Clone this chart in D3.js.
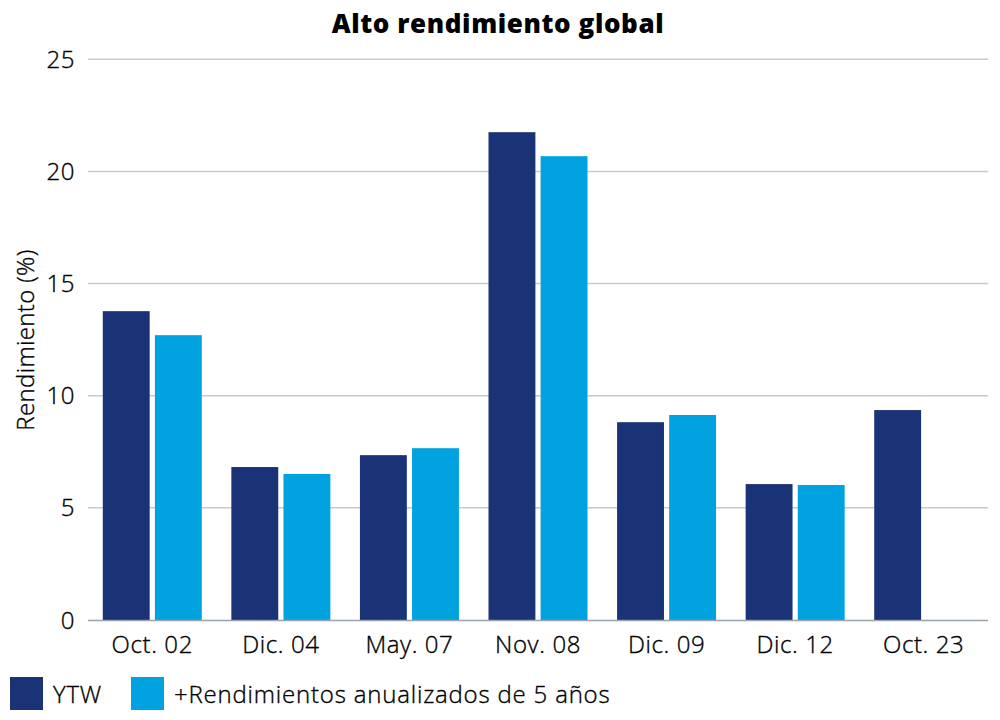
<!DOCTYPE html>
<html><head><meta charset="utf-8">
<script src="https://cdn.jsdelivr.net/npm/d3@7"></script>
<style>body{margin:0;background:#fff}svg{font-family:"Open Sans",Lato,sans-serif}</style>
</head><body><svg id="c" width="1000" height="720"></svg>
<script>
const categories = ["Oct. 02","Dic. 04","May. 07","Nov. 08","Dic. 09","Dic. 12","Oct. 23"];
const ytw = [13.77, 6.82, 7.35, 21.75, 8.82, 6.06, 9.36];
const rend5 = [12.70, 6.51, 7.66, 20.68, 9.14, 6.02, null];
const seriesNames = ["YTW","+Rendimientos anualizados de 5 años"];
const yTicks = [0,5,10,15,20,25];
const colors = ["#1a3276","#00a3e0"];

const svg = d3.select("#c");
const x = d3.scaleBand().domain(categories).range([88,988]).paddingInner(0.23).paddingOuter(0.115);
const x1 = d3.scaleBand().domain([0,1]).range([0,x.bandwidth()]).paddingInner(0.1);
const y = d3.scaleLinear().domain([0,25]).range([620,59.3]);

svg.append("text").attr("x",498).attr("y",33).attr("text-anchor","middle")
  .attr("font-size",26).attr("font-weight",800).attr("letter-spacing",0.6).attr("fill","#000").text("Alto rendimiento global");

svg.append("g").selectAll("line").data(yTicks.filter(d=>d>0)).join("line")
  .attr("x1",88).attr("x2",988).attr("y1",d=>y(d)).attr("y2",d=>y(d))
  .attr("stroke","#c5cbd0").attr("stroke-width",1.5);

const lab = sel => sel.attr("font-size",24).attr("font-weight",300).attr("letter-spacing",0.6).attr("fill","#000").attr("stroke","#000").attr("stroke-width",0.35);

svg.append("g").selectAll("text").data(yTicks).join("text")
  .attr("x",75).attr("y",d=>y(d)+8.5).attr("text-anchor","end").call(lab).text(d=>d);

svg.append("text").attr("transform","translate(34,340) rotate(-90)").attr("text-anchor","middle")
  .call(lab).attr("letter-spacing",0.35).text("Rendimiento (%)");

const series = [ytw, rend5];
series.forEach((vals,si)=>{
  svg.append("g").selectAll("rect").data(categories.map((c,i)=>({c,v:vals[i]})).filter(d=>d.v!=null)).join("rect")
    .attr("x",d=>x(d.c)+x1(si)).attr("width",x1.bandwidth())
    .attr("y",d=>y(d.v)).attr("height",d=>y(0)-y(d.v)).attr("fill",colors[si]);
});

svg.append("line").attr("x1",88).attr("x2",988).attr("y1",620.5).attr("y2",620.5).attr("stroke","#9aa3aa").attr("stroke-width",1.5);

svg.append("g").selectAll("text").data(categories).join("text")
  .attr("x",d=>x(d)+x.bandwidth()/2).attr("y",653).attr("text-anchor","middle")
  .call(lab).text(d=>d);

const legX = [10,131];
seriesNames.forEach((n,i)=>{
  svg.append("rect").attr("x",legX[i]).attr("y",677).attr("width",33).attr("height",33).attr("fill",colors[i]);
  svg.append("text").attr("x",legX[i]+43).attr("y",703).call(lab).attr("letter-spacing",0.8).text(n);
});
</script></body></html>
